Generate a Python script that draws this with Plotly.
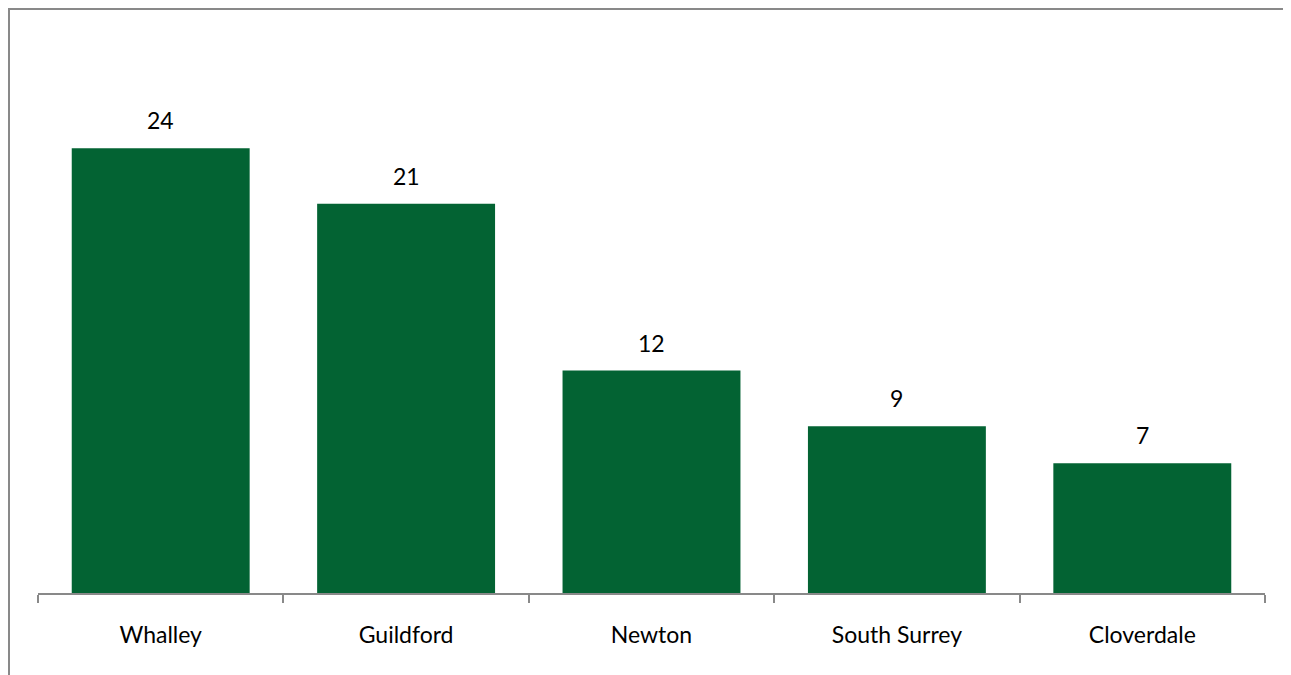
import plotly.graph_objects as go

categories = ["Whalley", "Guildford", "Newton", "South Surrey", "Cloverdale"]
values = [24, 21, 12, 9, 7]

W, H = 1291, 675
L, R, T, B = 30, 34, 29, 90
pw, ph = W - L - R, H - T - B

def px(x):
    return (x - L) / pw

def py(y):
    return (H - B - y) / ph

FONT = "Lato, Open Sans, sans-serif"

fig = go.Figure(go.Bar(
    x=categories, y=values, width=0.725,
    marker=dict(color="#036333", line=dict(width=0)),
    hoverinfo="x+y",
))

annotations = [
    dict(x=c, y=v, xref="x", yref="y", text=str(v), showarrow=False,
         yanchor="bottom", yshift=12, font=dict(family=FONT, size=23, color="#000000"))
    for c, v in zip(categories, values)
]

fig.update_layout(
    width=W, height=H,
    margin=dict(l=L, r=R, t=T, b=B),
    paper_bgcolor="white", plot_bgcolor="white",
    showlegend=False,
    xaxis=dict(
        showline=True, linecolor="#898989", linewidth=2,
        ticks="outside", tickson="boundaries", ticklen=8, tickcolor="#898989", tickwidth=2,
        tickfont=dict(family=FONT, size=23, color="#000000"),
        ticklabelstandoff=20, showgrid=False,
    ),
    yaxis=dict(range=[0, 30], visible=False, showgrid=False),
    annotations=annotations,
    shapes=[
        dict(type="line", xref="paper", yref="paper", x0=px(1), x1=px(1), y0=py(0), y1=py(700),
             line=dict(color="#898989", width=2)),
        dict(type="line", xref="paper", yref="paper", x0=px(0), x1=px(1320), y0=py(1), y1=py(1),
             line=dict(color="#898989", width=2)),
    ],
)

fig.write_html("out.html")
